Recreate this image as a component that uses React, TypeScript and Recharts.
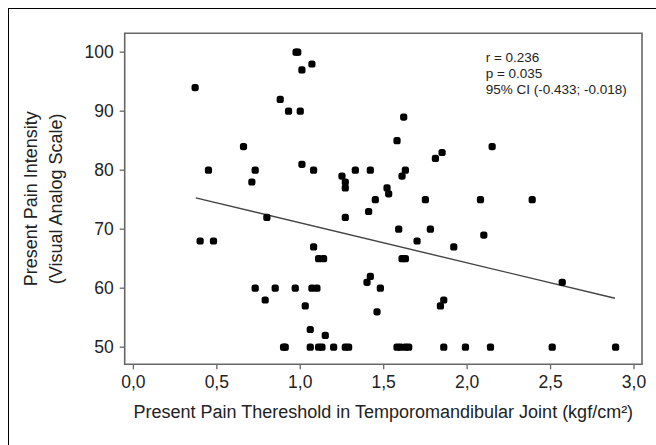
import { ScatterChart, Scatter, XAxis, YAxis, ReferenceLine, ReferenceArea, Label } from "recharts";

// pressure pain threshold (kgf/cm2) and VAS pain intensity
const threshold = [
  0.37, 0.45, 0.66, 0.73, 0.71, 0.88, 0.975, 0.985, 1.07, 1.01,
  0.93, 1.0, 1.62, 1.58, 1.85, 1.81, 1.01, 1.08, 1.33, 1.42,
  1.63, 1.61, 1.25, 1.27, 1.27, 1.52, 1.53, 1.45, 1.75, 2.15,
  2.08, 2.39, 1.27, 1.41, 1.59, 1.78, 1.7, 1.92, 1.08, 1.11,
  1.14, 1.61, 1.63, 0.85, 0.97, 1.07, 1.1, 1.42, 1.4, 1.48,
  1.03, 1.46, 1.86, 1.84, 1.06, 1.15, 0.4, 0.48, 0.8, 0.73,
  0.79, 2.1, 2.57,
  0.9, 0.91, 1.06, 1.11, 1.13, 1.2, 1.27, 1.29, 1.58, 1.6,
  1.63, 1.65, 1.86, 1.99, 2.14, 2.51, 2.89,
];
const intensity = [
  94, 80, 84, 80, 78, 92, 100, 100, 98, 97,
  90, 90, 89, 85, 83, 82, 81, 80, 80, 80,
  80, 79, 79, 78, 77, 77, 76, 75, 75, 84,
  75, 75, 72, 73, 70, 70, 68, 67, 67, 65,
  65, 65, 65, 60, 60, 60, 60, 62, 61, 60,
  57, 56, 58, 57, 53, 52, 68, 68, 72, 60,
  58, 69, 61,
  50, 50, 50, 50, 50, 50, 50, 50, 50, 50,
  50, 50, 50, 50, 50, 50, 50,
];

// end points of the fitted regression line
const fitX = [0.374, 2.886];
const fitY = [75.3, 58.3];

const xTicks = [0, 0.5, 1, 1.5, 2, 2.5, 3];
const yTicks = [50, 60, 70, 80, 90, 100];
const xDomain = [-0.052, 3.048];
const yDomain = [47.1, 103.2];

const statLines = ["r = 0.236", "p = 0.035", "95% CI (-0.433; -0.018)"];

const points = threshold.map((x, i) => ({ x, y: intensity[i] }));

const FONT = '"Liberation Sans", Arial, Helvetica, sans-serif';
const TEXT = "#222";

const Dot = (p: any) => (
  <rect x={p.cx - 3.6} y={p.cy - 3.6} width={7.2} height={7.2} rx={2.6} fill="#000" />
);

const XTitle = ({ viewBox }: any) => (
  <text
    x={viewBox.x + viewBox.width / 2}
    y={viewBox.y + 54}
    textAnchor="middle"
    fontSize={18}
    fill={TEXT}
    fontFamily={FONT}
  >
    Present Pain Thereshold in Temporomandibular Joint (kgf/cm²)
  </text>
);

const YTitle = ({ viewBox }: any) => {
  const cx = viewBox.x - 27.4;
  const cy = viewBox.y + viewBox.height / 2;
  return (
    <text
      transform={`rotate(-90 ${cx} ${cy})`}
      x={cx}
      y={cy}
      textAnchor="middle"
      fontSize={18}
      fill={TEXT}
      fontFamily={FONT}
    >
      <tspan x={cx} dy={0}>Present Pain Intensity</tspan>
      <tspan x={cx} dy={24.4}>(Visual Analog Scale)</tspan>
    </text>
  );
};

const fmtX = (v: number) => v.toFixed(1).replace(".", ",");

export default function App() {
  return (
    <div style={{ position: "relative", width: 656, height: 445, overflow: "hidden", background: "#fff" }}>
      <style>{`body{margin:0;overflow:hidden}`}</style>
      <div
        style={{
          position: "absolute",
          left: 8,
          top: 8,
          width: 660,
          height: 450,
          borderLeft: "1px solid #000",
          borderTop: "1px solid #000",
        }}
      />
      <div style={{ position: "absolute", left: 8, top: 8 }}>
        <ScatterChart
          width={648}
          height={437}
          margin={{ top: 25.3, right: 14, bottom: 40.7, left: 56.7 }}
          style={{ fontFamily: FONT }}
        >
          <XAxis
            type="number"
            dataKey="x"
            domain={xDomain}
            ticks={xTicks}
            allowDataOverflow
            tickFormatter={fmtX}
            axisLine={false}
            tickLine={{ stroke: "#666", strokeWidth: 1.3 }}
            tickSize={5}
            tickMargin={6}
            height={40}
            tick={{ fontSize: 17.5, fill: TEXT, fontFamily: FONT }}
          >
            <Label content={<XTitle />} />
          </XAxis>
          <YAxis
            type="number"
            dataKey="y"
            domain={yDomain}
            ticks={yTicks}
            allowDataOverflow
            axisLine={false}
            tickLine={{ stroke: "#666", strokeWidth: 1.3 }}
            tickSize={5}
            tickMargin={6}
            width={60}
            tick={{ fontSize: 17.5, fill: TEXT, fontFamily: FONT }}
          >
            <Label content={<YTitle />} />
          </YAxis>
          <ReferenceArea
            x1={xDomain[0]}
            x2={xDomain[1]}
            y1={yDomain[0]}
            y2={yDomain[1]}
            fill="none"
            stroke="#666"
            strokeWidth={1.6}
            fillOpacity={0}
          />
          <ReferenceLine
            segment={[
              { x: fitX[0], y: fitY[0] },
              { x: fitX[1], y: fitY[1] },
            ]}
            stroke="#444"
            strokeWidth={1.4}
          />
          <Scatter data={points} shape={Dot} isAnimationActive={false} />
          <text x={477.7} y={54.3} fontSize={13.5} fill={TEXT} fontFamily={FONT}>
            {statLines.map((s, i) => (
              <tspan key={s} x={477.7} dy={i === 0 ? 0 : 16}>
                {s}
              </tspan>
            ))}
          </text>
        </ScatterChart>
      </div>
    </div>
  );
}
